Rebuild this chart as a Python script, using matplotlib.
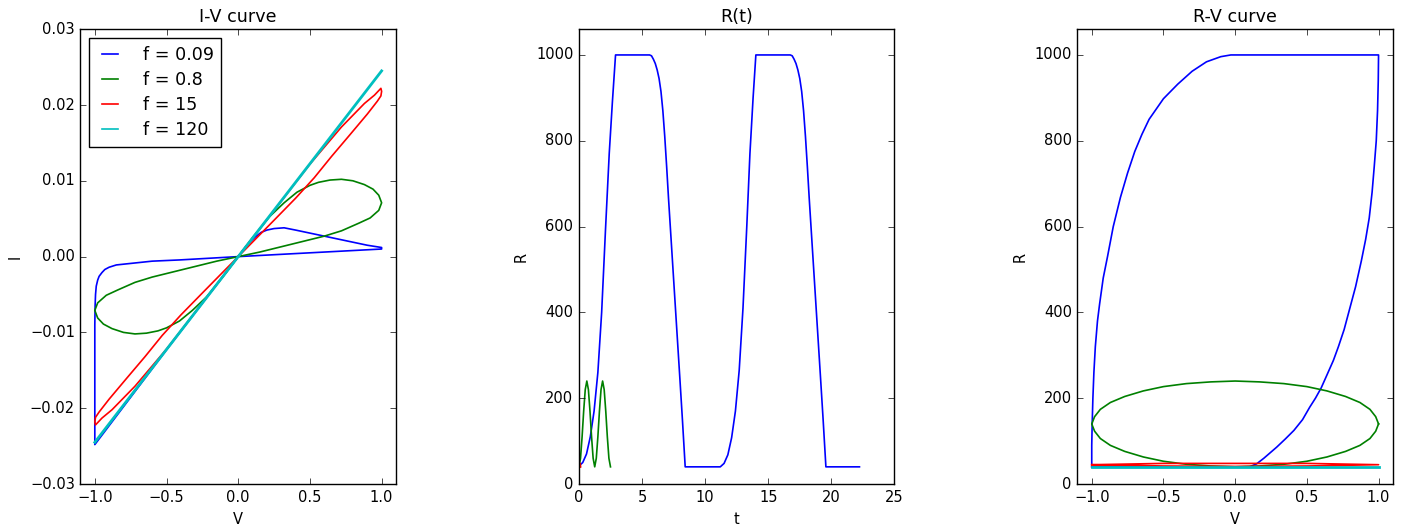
import matplotlib
matplotlib.use('Agg')
import matplotlib.pyplot as plt

plt.style.use('classic')
plt.rcParams.update({'font.family': 'DejaVu Sans', 'font.size': 10.5})

labels = ['f = 0.09', 'f = 0.8', 'f = 15', 'f = 120']
colors = ['b', 'g', 'r', 'c']

# ---- I-V curve ----
iv_blue_v = [0, 0.04, 0.08, 0.12, 0.16, 0.2, 0.25, 0.32, 0.4, 0.5, 0.6, 0.75, 0.9, 1.0, 1.0, 0.5, 0.0,
             -0.41, -0.6, -0.75, -0.85, -0.9, -0.93, -0.95, -0.97, -0.98, -0.99, -0.995, -0.998, -1.0,
             -1.0, -0.5, 0.0]
iv_blue_i = [0, 0.0010, 0.0019, 0.0026, 0.0032, 0.0035, 0.0037, 0.0038, 0.0035, 0.0031, 0.0027, 0.0021, 0.0015,
             0.0012, 0.0010, 0.0005, 0,
             -0.00044, -0.0006, -0.0009, -0.0011, -0.0014, -0.0017, -0.0021, -0.0026, -0.0031, -0.0039,
             -0.0050, -0.0065, -0.0090, -0.0248, -0.0123, 0]

iv_green_v = [0, 0.1, 0.22, 0.32, 0.41, 0.5, 0.56, 0.64, 0.72, 0.8, 0.88, 0.94, 0.98, 1.0,
              0.98, 0.92, 0.84, 0.72, 0.6, 0.45, 0.3, 0.15, 0,
              -0.1, -0.22, -0.32, -0.41, -0.5, -0.56, -0.64, -0.72, -0.8, -0.88, -0.94, -0.98, -1.0,
              -0.98, -0.92, -0.84, -0.72, -0.6, -0.45, -0.3, -0.15, 0]
iv_green_i = [0, 0.0025, 0.0053, 0.0071, 0.0085, 0.0094, 0.0098, 0.0101, 0.0102, 0.0100, 0.0095, 0.0089, 0.0081, 0.0071,
              0.0061, 0.0051, 0.0044, 0.0034, 0.0027, 0.0020, 0.0013, 0.0006, 0,
              -0.0025, -0.0053, -0.0071, -0.0085, -0.0094, -0.0098, -0.0101, -0.0102, -0.0100, -0.0095, -0.0089,
              -0.0081, -0.0071,
              -0.0061, -0.0051, -0.0044, -0.0034, -0.0027, -0.0020, -0.0013, -0.0006, 0]

iv_red_v = [0, 0.25, 0.5, 0.72, 0.88, 0.95, 0.98, 0.995, 1.0, 0.995, 0.97, 0.9, 0.78, 0.65, 0.53, 0.4, 0.25, 0.12, 0,
            -0.25, -0.5, -0.72, -0.88, -0.95, -0.98, -0.995, -1.0, -0.995, -0.97, -0.9, -0.78, -0.65, -0.53,
            -0.4, -0.25, -0.12, 0]
iv_red_i = [0, 0.0061, 0.0122, 0.0171, 0.0202, 0.0213, 0.0219, 0.0222, 0.0218, 0.0212, 0.0205, 0.0188, 0.0161,
            0.0132, 0.0104, 0.0077, 0.0048, 0.0023, 0,
            -0.0061, -0.0122, -0.0171, -0.0202, -0.0213, -0.0219, -0.0222, -0.0218, -0.0212, -0.0205, -0.0188,
            -0.0161, -0.0132, -0.0104, -0.0077, -0.0048, -0.0023, 0]

iv_cyan_v = [-1.0, 1.0]
iv_cyan_i = [-0.0245, 0.0245]

# ---- R(t) ----
rt_blue_t = [0, 0.3, 0.6, 0.9, 1.2, 1.5, 1.8, 2.1, 2.4, 2.65, 2.9,
             5.6, 5.75, 5.9, 6.05, 6.2, 6.35, 6.5, 6.65, 6.8, 6.95, 7.1, 7.4, 7.7, 8.0, 8.2, 8.42,
             11.2, 11.5, 11.8, 12.1, 12.4, 12.7, 13.0, 13.3, 13.55, 13.8, 14.02,
             16.75, 16.9, 17.05, 17.2, 17.35, 17.5, 17.65, 17.8, 17.95, 18.1, 18.25, 18.55, 18.85, 19.15,
             19.35, 19.57, 22.23]
rt_blue_r = [42, 50, 70, 110, 170, 260, 400, 590, 770, 890, 1000,
             1000, 998, 990, 980, 965, 945, 915, 870, 810, 740, 665, 525, 385, 245, 150, 40,
             40, 48, 68, 108, 170, 265, 410, 600, 770, 900, 1000,
             1000, 998, 990, 980, 965, 945, 915, 870, 810, 740, 665, 525, 385, 245,
             150, 40, 40]

rt_green_t = [0, 0.125, 0.25, 0.375, 0.5, 0.625, 0.75, 0.875, 1.0, 1.125, 1.25,
              1.375, 1.5, 1.625, 1.75, 1.875, 2.0, 2.125, 2.25, 2.375, 2.5]
rt_green_r = [40, 60, 110, 170, 220, 240, 220, 170, 110, 60, 40,
              60, 110, 170, 220, 240, 220, 170, 110, 60, 40]

rt_red_t = [0, 0.017, 0.033, 0.05, 0.067, 0.083, 0.1, 0.117, 0.133]
rt_red_r = [40, 44, 48, 44, 40, 44, 48, 44, 40]

rt_cyan_t = [0, 0.0167]
rt_cyan_r = [40, 40]

# ---- R-V curve ----
rv_blue_v = [-1.0, 0.1, 0.15, 0.2, 0.29, 0.35, 0.41, 0.47, 0.52, 0.56, 0.6, 0.64, 0.685, 0.72, 0.76, 0.8,
             0.84, 0.88, 0.91, 0.935, 0.955, 0.97, 0.984, 0.993, 0.998, 1.0,
             -0.03, -0.1, -0.2, -0.3, -0.4, -0.5, -0.6, -0.65, -0.7, -0.75, -0.8, -0.85, -0.89, -0.92,
             -0.945, -0.96, -0.975, -0.985, -0.992, -0.997, -1.0, -1.0]
rv_blue_r = [40, 40, 47, 60, 86, 105, 125, 150, 179, 200, 224, 254, 288, 320, 360, 410,
             460, 520, 570, 620, 680, 740, 800, 870, 940, 1000,
             1000, 996, 984, 962, 932, 898, 850, 815, 775, 725, 668, 600, 530, 480,
             420, 380, 320, 260, 200, 140, 90, 40]

rv_green_v = [1.0, 0.98, 0.94, 0.87, 0.77, 0.64, 0.5, 0.34, 0.17, 0.0, -0.17, -0.34, -0.5, -0.64, -0.77, -0.87,
              -0.94, -0.98, -1.0, -0.98, -0.94, -0.87, -0.77, -0.64, -0.5, -0.34, -0.17, 0.0, 0.17, 0.34, 0.5,
              0.64, 0.77, 0.87, 0.94, 0.98, 1.0]
rv_green_r = [140, 157, 174, 190, 204, 217, 227, 234, 238, 240, 238, 234, 227, 217, 204, 190,
              174, 157, 140, 123, 106, 90, 76, 63, 53, 46, 42, 40, 42, 46, 53,
              63, 76, 90, 106, 123, 140]

rv_red_v = [-1.0, -0.5, 0.0, 0.5, 1.0, 0.5, 0.0, -0.5, -1.0]
rv_red_r = [45, 48, 48, 48, 45, 42, 41, 42, 45]

rv_cyan_v = [-1.0, 1.0]
rv_cyan_r = [40, 40]


fig, (ax1, ax2, ax3) = plt.subplots(1, 3, figsize=(14.02, 5.31), dpi=100)
fig.subplots_adjust(left=0.0574, right=0.9935, bottom=0.0885, top=0.945, wspace=0.58)

title_size = 12.6

# I-V
ax1.plot(iv_blue_v, iv_blue_i, color=colors[0], lw=1.2, label=labels[0])
ax1.plot(iv_green_v, iv_green_i, color=colors[1], lw=1.2, label=labels[1])
ax1.plot(iv_red_v, iv_red_i, color=colors[2], lw=1.2, label=labels[2])
ax1.plot(iv_cyan_v, iv_cyan_i, color=colors[3], lw=2, label=labels[3])
ax1.set_xlim(-1.1, 1.1)
ax1.set_ylim(-0.03, 0.03)
ax1.set_title('I-V curve', fontsize=title_size, pad=5)
ax1.set_xlabel('V')
ax1.set_ylabel('I')
leg = ax1.legend(loc='upper left', fontsize=title_size, handlelength=1.5, handletextpad=1.1,
                 borderpad=0.45, labelspacing=0.4)
leg.get_lines()[3].set_linewidth(1.2)

# R(t)
ax2.plot(rt_blue_t, rt_blue_r, color=colors[0], lw=1.2)
ax2.plot(rt_green_t, rt_green_r, color=colors[1], lw=1.2)
ax2.plot(rt_red_t, rt_red_r, color=colors[2], lw=1.2)
ax2.plot(rt_cyan_t, rt_cyan_r, color=colors[3], lw=1.2)
ax2.set_xlim(0, 25)
ax2.set_ylim(0, 1060)
ax2.set_title('R(t)', fontsize=title_size, pad=5)
ax2.set_xlabel('t')
ax2.set_ylabel('R')

# R-V
ax3.plot(rv_blue_v, rv_blue_r, color=colors[0], lw=1.2)
ax3.plot(rv_green_v, rv_green_r, color=colors[1], lw=1.2)
ax3.plot(rv_red_v, rv_red_r, color=colors[2], lw=1.2)
ax3.plot(rv_cyan_v, rv_cyan_r, color=colors[3], lw=2)
ax3.set_xlim(-1.1, 1.1)
ax3.set_ylim(0, 1060)
ax3.set_title('R-V curve', fontsize=title_size, pad=5)
ax3.set_xlabel('V')
ax3.set_ylabel('R')

fig.savefig('out.png', dpi=100, facecolor='white')
